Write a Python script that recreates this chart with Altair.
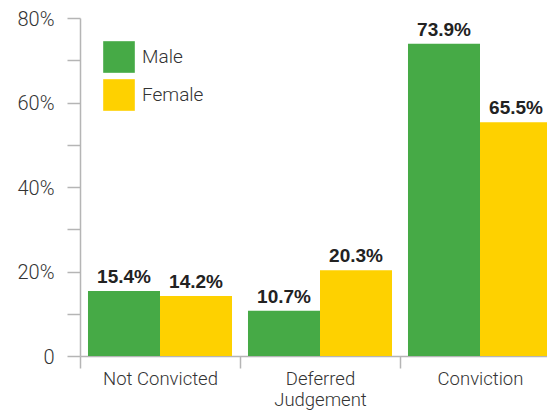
import altair as alt
import pandas as pd

categories = ["Not Convicted", "Deferred Judgement", "Conviction"]
groups = ["Male", "Female"]
male_values = [15.4, 10.7, 73.9]
female_values = [14.2, 20.3, 55.3]
male_labels = ["15.4%", "10.7%", "73.9%"]
female_labels = ["14.2%", "20.3%", "65.5%"]
colors = ["#46aa46", "#fed100"]
y_ticks = [0, 10, 20, 30, 40, 50, 60, 70, 80]

rows = []
for i, c in enumerate(categories):
    rows.append({"category": c, "group": "Male", "value": male_values[i], "label": male_labels[i]})
    rows.append({"category": c, "group": "Female", "value": female_values[i], "label": female_labels[i]})
df = pd.DataFrame(rows)

AX = "#b5b5b5"
LIGHT = "Roboto"

x_enc = alt.X(
    "category:N",
    sort=categories,
    scale=alt.Scale(range=[0, 480], paddingInner=0, paddingOuter=0),
    axis=alt.Axis(
        title=None,
        labelAngle=0,
        tickBand="extent",
        tickSize=12,
        tickColor=AX,
        tickWidth=1.5,
        domainColor=AX,
        domainWidth=1.5,
        labelFont=LIGHT,
        labelFontWeight=300,
        labelFontSize=18.5,
        labelColor="#333333",
        labelPadding=1,
        labelLineHeight=21,
        labelExpr="datum.label == 'Deferred Judgement' ? ['Deferred', 'Judgement'] : datum.label",
    ),
)
xo_enc = alt.XOffset(
    "group:N",
    sort=groups,
    scale=alt.Scale(paddingInner=0, paddingOuter=0.111),
)
y_enc = alt.Y(
    "value:Q",
    scale=alt.Scale(domain=[0, 80], nice=False),
    axis=alt.Axis(
        title=None,
        values=y_ticks,
        grid=False,
        tickSize=13,
        tickColor=AX,
        tickWidth=1.5,
        domainColor=AX,
        domainWidth=1.5,
        labelFont=LIGHT,
        labelFontWeight=300,
        labelFontSize=20,
        labelColor="#333333",
        labelPadding=13,
        labelOffset=1,
        labelExpr="datum.value % 20 == 0 ? (datum.value == 0 ? '0' : datum.value + '%') : ''",
    ),
)

base = alt.Chart(df).encode(x=x_enc, xOffset=xo_enc, y=y_enc)

bars = base.mark_bar(y2Offset=-5).encode(
    color=alt.Color(
        "group:N",
        sort=groups,
        scale=alt.Scale(domain=groups, range=colors),
        legend=alt.Legend(
            title=None,
            orient="none",
            legendX=23,
            legendY=23,
            padding=0,
            symbolType="square",
            symbolSize=1000,
            symbolStrokeWidth=0,
            symbolOpacity=1,
            rowPadding=6,
            labelOffset=7,
            labelFont=LIGHT,
            labelFontWeight=300,
            labelFontSize=19,
            labelColor="#333333",
        ),
    )
)

texts = base.mark_text(
    baseline="bottom",
    dy=-4,
    font="Liberation Sans",
    fontWeight="bold",
    fontSize=19,
    color="#222222",
).encode(text="label:N")

chart = (
    alt.layer(bars, texts)
    .properties(
        width=467,
        height=338,
        autosize=alt.AutoSizeParams(type="none"),
        padding={"left": 72, "top": 10, "right": 0, "bottom": 55},
    )
    .configure_view(stroke=None)
)

chart.save("out.html", embed_options={"renderer": "svg", "actions": False})
